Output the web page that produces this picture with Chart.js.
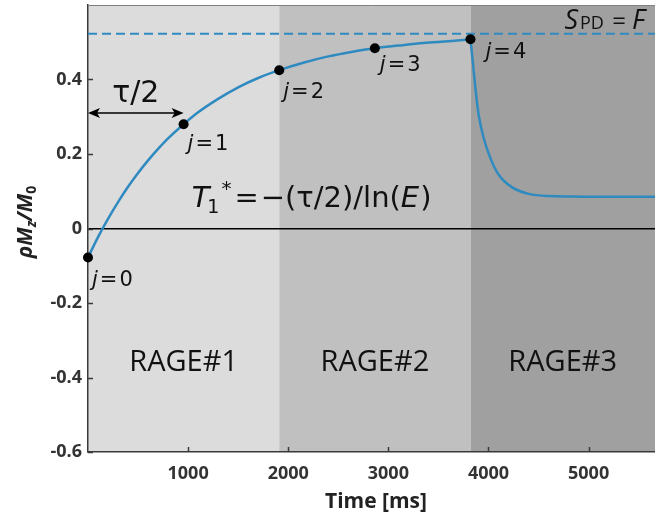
<!DOCTYPE html>
<html>
<head>
<meta charset="utf-8">
<script src="https://cdn.jsdelivr.net/npm/chart.js@4.4.1/dist/chart.umd.min.js"></script>
<style>
html,body{margin:0;padding:0;background:#fff;}
#wrap{width:655px;height:515px;}
</style>
</head>
<body>
<div id="wrap"><canvas id="c" width="655" height="515"></canvas></div>
<script>
// ---- data ----
const riseTime  = [0,100,200,300,400,500,600,700,800,955,1100,1300,1500,1700,1910,2150,2400,2630,2865,3100,3350,3600,3820];
const riseValue = [-0.078,-0.023,0.026,0.071,0.112,0.149,0.183,0.214,0.242,0.280,0.312,0.348,0.379,0.404,0.425,0.445,0.462,0.474,0.484,0.491,0.498,0.503,0.508];
const dropTime  = [3820,3845,3868,3900,3950,4016,4100,4233,4400,4600,4833,5100,5400,5663];
const dropValue = [0.508,0.443,0.380,0.308,0.245,0.191,0.145,0.111,0.093,0.087,0.086,0.085,0.085,0.085];
const jTime  = [0,955,1910,2865,3820];
const jValue = [-0.078,0.280,0.425,0.484,0.508];
const jNames = ['0','1','2','3','4'];
const sPD = 0.523;
const bandStart  = [0,1910,3820];
const bandEnd    = [1910,3820,5663];
const bandLabels = ['RAGE#1','RAGE#2','RAGE#3'];
const xTicks = [1000,2000,3000,4000,5000];
const yTicks = [-0.6,-0.4,-0.2,0,0.2,0.4];
const yTickLabels = ['-0.6','-0.4','-0.2','0','0.2','0.4'];
const xMin = 0, xMax = 5663, yMin = -0.6, yMax = 0.6;

// ---- styles ----
const FAM = '"Open Sans", sans-serif';
const MATH = '"DejaVu Sans", sans-serif';
const BLUE = '#2f8ac0';
const bandColors = ['#dcdcdc','#c0c0c0','#a0a0a0'];
const AXIS = '#3a3a3a';

const pts = (xs, ys) => xs.map((x, i) => ({x, y: ys[i]}));

function drawRuns(ctx, runs, x, y, align) {
  ctx.textBaseline = 'alphabetic';
  ctx.textAlign = 'left';
  let w = 0;
  runs.forEach(r => { ctx.font = r.f; r.w = ctx.measureText(r.t).width; w += r.w + (r.gap || 0); });
  let cx = align === 'center' ? x - w / 2 : align === 'right' ? x - w : x;
  runs.forEach(r => { ctx.font = r.f; ctx.fillText(r.t, cx, y + (r.dy || 0)); cx += r.w + (r.gap || 0); });
}

const decor = {
  id: 'decor',
  beforeDraw(chart) {
    const {ctx, chartArea: a, scales: {x, y}} = chart;
    ctx.save();
    ctx.fillStyle = '#fff';
    ctx.fillRect(0, 0, chart.width, chart.height);
    bandStart.forEach((s, i) => {
      const x0 = x.getPixelForValue(s), x1 = x.getPixelForValue(bandEnd[i]);
      ctx.fillStyle = bandColors[i];
      ctx.fillRect(x0, a.top, x1 - x0, a.bottom - a.top);
    });
    ctx.restore();
  },
  afterDraw(chart) {
    const {ctx, chartArea: a, scales: {x, y}} = chart;
    ctx.save();
    // top border
    ctx.strokeStyle = '#808080'; ctx.lineWidth = 1;
    ctx.beginPath(); ctx.moveTo(a.left, a.top + 0.5); ctx.lineTo(a.right, a.top + 0.5); ctx.stroke();
    // inward ticks
    ctx.strokeStyle = AXIS; ctx.lineWidth = 1.5;
    xTicks.forEach(v => { const px = Math.round(x.getPixelForValue(v)) + 0.5; ctx.beginPath(); ctx.moveTo(px, a.bottom); ctx.lineTo(px, a.bottom - 5); ctx.stroke(); });
    yTicks.forEach(v => { const py = Math.round(y.getPixelForValue(v)) + 0.5; ctx.beginPath(); ctx.moveTo(a.left, py); ctx.lineTo(a.left + 5, py); ctx.stroke(); });

    ctx.fillStyle = '#111';
    // RAGE labels
    bandLabels.forEach((t, i) => {
      const cx = x.getPixelForValue((bandStart[i] + bandEnd[i]) / 2);
      drawRuns(ctx, [{t, f: '29px ' + FAM}], cx, y.getPixelForValue(-0.355) + 10, 'center');
    });
    // j labels
    const jOff = [[4, 28], [4, 25.5], [4, 28], [5, 23], [15, 19]];
    jTime.forEach((t, i) => {
      const px = x.getPixelForValue(t) + jOff[i][0], py = y.getPixelForValue(jValue[i]) + jOff[i][1];
      drawRuns(ctx, [{t: 'j', f: 'italic 21px ' + MATH, gap: 2}, {t: '=', f: '21px ' + MATH, gap: 2}, {t: jNames[i], f: '21px ' + MATH}], px, py, 'left');
    });
    // tau/2 and arrow
    const ay = y.getPixelForValue(0.310);
    const ax0 = x.getPixelForValue(0), ax1 = x.getPixelForValue(jTime[1]);
    drawRuns(ctx, [{t: 'τ', f: '30px ' + MATH}, {t: '/2', f: '30px ' + MATH}], (ax0 + ax1) / 2, ay - 11, 'center');
    ctx.strokeStyle = '#000'; ctx.lineWidth = 1.6;
    ctx.beginPath(); ctx.moveTo(ax0 + 4, ay); ctx.lineTo(ax1 - 4, ay); ctx.stroke();
    ctx.fillStyle = '#000';
    [[ax0, 1], [ax1, -1]].forEach(([px, d]) => {
      ctx.beginPath(); ctx.moveTo(px, ay); ctx.lineTo(px + d * 12, ay - 5); ctx.lineTo(px + d * 9, ay); ctx.lineTo(px + d * 12, ay + 5); ctx.closePath(); ctx.fill();
    });
    // formula
    ctx.fillStyle = '#111';
    const fx = x.getPixelForValue(1035), fy = y.getPixelForValue(0.11) + 19;
    drawRuns(ctx, [
      {t: 'T', f: 'italic 29px ' + MATH, gap: -2},
      {t: '1', f: '19px ' + MATH, dy: 6, gap: 2},
      {t: '*', f: '20px ' + MATH, dy: -12, gap: 3},
      {t: '=', f: '29px ' + MATH, gap: 2},
      {t: '−(', f: '29px ' + MATH},
      {t: 'τ', f: '29px ' + MATH},
      {t: '/2)/ln(', f: '29px ' + MATH},
      {t: 'E', f: 'italic 29px ' + MATH, gap: 1},
      {t: ')', f: '29px ' + MATH}
    ], fx, fy, 'left');
    // S_PD = F
    drawRuns(ctx, [
      {t: 'S', f: 'italic 27px ' + FAM, gap: 2},
      {t: 'PD', f: '18px ' + FAM, gap: 2},
      {t: ' = ', f: '24px ' + FAM},
      {t: 'F', f: 'italic 27px ' + FAM}
    ], a.right - 10, y.getPixelForValue(sPD) - 5, 'right');

    // axis titles
    ctx.fillStyle = '#222';
    drawRuns(ctx, [{t: 'Time [ms]', f: 'bold 21px ' + FAM}], 376, 508, 'center');
    ctx.translate(32, 222);
    ctx.rotate(-Math.PI / 2);
    drawRuns(ctx, [
      {t: 'ρ', f: 'bold italic 21px ' + FAM},
      {t: 'M', f: 'bold italic 21px ' + FAM},
      {t: 'z', f: 'bold italic 14px ' + FAM, dy: 4},
      {t: '/', f: 'bold italic 21px ' + FAM},
      {t: 'M', f: 'bold italic 21px ' + FAM},
      {t: '0', f: 'bold 14px ' + FAM, dy: 4}
    ], 0, 0, 'center');
    ctx.restore();
  }
};

new Chart(document.getElementById('c'), {
  type: 'scatter',
  data: {
    datasets: [
      {data: pts(riseTime, riseValue), showLine: true, borderColor: BLUE, borderWidth: 2.5, pointRadius: 0, cubicInterpolationMode: 'monotone', order: 3},
      {data: pts(dropTime, dropValue), showLine: true, borderColor: BLUE, borderWidth: 2.5, pointRadius: 0, cubicInterpolationMode: 'monotone', order: 3},
      {data: pts([xMin, xMax], [sPD, sPD]), showLine: true, borderColor: BLUE, borderWidth: 2, borderDash: [9, 5], pointRadius: 0, order: 2},
      {data: pts(jTime, jValue), showLine: false, pointRadius: 5, pointBackgroundColor: '#000', pointBorderWidth: 0, order: 1, clip: false}
    ]
  },
  options: {
    responsive: false,
    animation: false,
    devicePixelRatio: 1,
    layout: {autoPadding: false, padding: {top: 5, right: 0, left: 0, bottom: 0}},
    plugins: {legend: {display: false}, tooltip: {enabled: false}},
    scales: {
      x: {
        type: 'linear', min: xMin, max: xMax,
        afterBuildTicks: s => { s.ticks = xTicks.map(v => ({value: v})); },
        afterFit: s => { s.height = 63; s.paddingLeft = 0; s.paddingRight = 0; },
        grid: {display: false, drawTicks: false},
        border: {display: true, color: AXIS, width: 1.5},
        ticks: {color: '#333', padding: 11, font: {family: FAM, size: 18, weight: 'bold'}, callback: v => String(v), maxRotation: 0}
      },
      y: {
        type: 'linear', min: yMin, max: yMax,
        afterBuildTicks: s => { s.ticks = yTicks.map(v => ({value: v})); },
        afterFit: s => { s.width = 88; s.paddingTop = 0; s.paddingBottom = 0; },
        grid: {display: true, drawTicks: false, color: c => (c.tick && c.tick.value === 0) ? '#000' : 'rgba(0,0,0,0)', lineWidth: 1.5},
        border: {display: true, color: AXIS, width: 1.5},
        ticks: {color: '#333', padding: 6, font: {family: FAM, size: 18, weight: 'bold'}, callback: v => { const i = yTicks.indexOf(v); return i >= 0 ? yTickLabels[i] : ''; }}
      }
    }
  },
  plugins: [decor]
});
</script>
</body>
</html>
